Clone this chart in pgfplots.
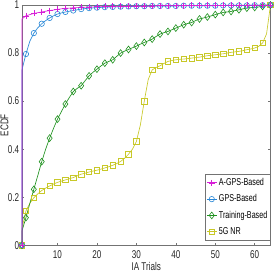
\documentclass[border=0pt]{standalone}
\usepackage{fontspec}
\setmainfont[FakeStretch=0.72]{Liberation Sans}
\usepackage{pgfplots}
\pgfplotsset{compat=1.18}
\definecolor{cMag}{RGB}{215,30,215}
\definecolor{cBlue}{RGB}{40,135,215}
\definecolor{cGreen}{RGB}{30,145,30}
\definecolor{cYel}{RGB}{200,200,40}
\begin{document}
\begin{tikzpicture}
\begin{axis}[
  scale only axis, width=248.5bp, height=240.3bp,
  xmin=1, xmax=64, ymin=0, ymax=1,
  xtick={10,20,30,40,50,60},
  ytick={0,0.2,0.4,0.6,0.8,1},
  yticklabels={0,0.2,0.4,0.6,0.8,1},
  /pgf/number format/assume math mode=true,
  tick align=inside, major tick length=2.5bp,
  axis line style={black!55, line width=0.5bp},
  every tick/.style={black!55, line width=0.5bp},
  font=\fontsize{11.3}{12}\selectfont,
  ticklabel style={text=black!85},
  xticklabel style={inner sep=0pt, yshift=-5.6bp, anchor=north},
  yticklabel style={inner sep=0pt, xshift=-2.6bp, anchor=east},
  xlabel={IA Trials}, ylabel={ECDF},
  xlabel style={at={(axis description cs:0.5,-0.088)}, anchor=center, text=black!85},
  ylabel style={at={(axis description cs:-0.07,0.5)}, anchor=center, text=black!85},
  clip=false,
  every axis plot/.append style={line width=0.65bp, mark size=2.7bp, mark options={solid, line width=0.6bp, fill=none}, mark repeat=2, mark phase=1},
  reverse legend,
  legend style={at={(1,0.022)}, anchor=south east, draw=black!55, line width=0.4bp,
    font=\fontsize{10}{10}\selectfont, inner xsep=1pt, inner ysep=2pt, row sep=3.6bp},
  legend cell align=left,
  legend image code/.code={\draw[#1,line width=0.7bp,mark repeat=2,mark phase=2] plot coordinates {(0cm,0cm) (0.17cm,0cm) (0.34cm,0cm)};},
]
% 5G NR
\addplot[color=cYel, mark=square] coordinates {
(1,0)(1,0.07)(2,0.143)(3,0.175)(4,0.198)(5,0.214)(6,0.228)(7,0.238)(8,0.247)(9,0.255)(10,0.262)
(11,0.267)(12,0.272)(13,0.277)(14,0.282)(15,0.289)(16,0.296)(17,0.300)(18,0.305)(19,0.309)(20,0.3125)
(21,0.317)(22,0.322)(23,0.327)(24,0.333)(25,0.340)(26,0.349)(27,0.362)(28,0.379)(29,0.400)(30,0.432)
(31,0.500)(32,0.600)(33,0.690)(34,0.730)(35,0.740)(36,0.747)(37,0.757)(38,0.765)(39,0.769)(40,0.772)
(41,0.774)(42,0.775)(43,0.777)(44,0.779)(45,0.781)(46,0.783)(47,0.786)(48,0.789)(49,0.791)(50,0.793)
(51,0.795)(52,0.797)(53,0.800)(54,0.803)(55,0.805)(56,0.807)(57,0.810)(58,0.814)(59,0.817)(60,0.821)
(61,0.828)(62,0.842)(63,0.880)(64,1.000)};
% Training-Based
\addplot[color=cGreen, mark=diamond, mark size=3.4bp] coordinates {
(1,0)(1,0.06)(2,0.115)(3,0.175)(4,0.233)(5,0.290)(6,0.348)(7,0.400)(8,0.446)(9,0.487)(10,0.525)
(11,0.557)(12,0.588)(13,0.615)(14,0.640)(15,0.653)(16,0.664)(17,0.685)(18,0.705)(19,0.720)(20,0.733)
(21,0.746)(22,0.758)(23,0.765)(24,0.772)(25,0.786)(26,0.800)(27,0.808)(28,0.815)(29,0.822)(30,0.829)
(31,0.837)(32,0.844)(33,0.851)(34,0.858)(35,0.869)(36,0.879)(37,0.885)(38,0.890)(39,0.897)(40,0.904)
(41,0.911)(42,0.918)(43,0.923)(44,0.927)(45,0.935)(46,0.942)(47,0.946)(48,0.950)(49,0.955)(50,0.960)
(51,0.965)(52,0.969)(53,0.971)(54,0.973)(55,0.977)(56,0.980)(57,0.984)(58,0.987)(59,0.989)(60,0.990)
(61,0.992)(62,0.994)(63,0.997)(64,1.000)};
% GPS-Based
\addplot[color=cBlue, mark=o] coordinates {
(1,0)(1,0.73)(2,0.796)(3,0.850)(4,0.883)(5,0.905)(6,0.922)(7,0.935)(8,0.946)(9,0.955)(10,0.9625)
(11,0.967)(12,0.971)(13,0.974)(14,0.977)(15,0.980)(16,0.983)(17,0.985)(18,0.987)(19,0.988)(20,0.989)
(21,0.990)(22,0.991)(23,0.991)(24,0.992)(25,0.992)(26,0.993)(27,0.993)(28,0.994)(29,0.994)(30,0.995)
(31,0.995)(32,0.995)(33,0.995)(34,0.996)(35,0.996)(36,0.996)(37,0.996)(38,0.996)(39,0.996)(40,0.996)
(41,0.997)(42,0.997)(43,0.997)(44,0.997)(45,0.997)(46,0.997)(47,0.997)(48,0.997)(49,0.997)(50,0.997)
(51,0.998)(52,0.998)(53,0.998)(54,0.998)(55,0.998)(56,0.998)(57,0.998)(58,0.998)(59,0.999)(60,0.999)
(61,0.999)(62,0.999)(63,0.999)(64,1.000)};
% A-GPS-Based
\addplot[color=cMag, mark=+, mark size=3bp] coordinates {
(1,0)(1,0.942)(2,0.955)(3,0.960)(4,0.965)(5,0.968)(6,0.971)(7,0.974)(8,0.977)(9,0.979)(10,0.982)
(11,0.984)(12,0.986)(13,0.987)(14,0.988)(15,0.989)(16,0.990)(17,0.991)(18,0.992)(19,0.992)(20,0.993)
(21,0.993)(22,0.994)(23,0.994)(24,0.994)(25,0.995)(26,0.995)(27,0.995)(28,0.995)(29,0.996)(30,0.996)
(31,0.996)(32,0.996)(33,0.996)(34,0.996)(35,0.997)(36,0.997)(37,0.997)(38,0.997)(39,0.997)(40,0.997)
(41,0.997)(42,0.997)(43,0.998)(44,0.998)(45,0.998)(46,0.998)(47,0.998)(48,0.998)(49,0.998)(50,0.998)
(51,0.998)(52,0.998)(53,0.999)(54,0.999)(55,0.999)(56,0.999)(57,0.999)(58,0.999)(59,0.999)(60,0.999)
(61,0.999)(62,0.999)(63,1.000)(64,1.000)};
\legend{5G NR, Training-Based, GPS-Based, A-GPS-Based}
\end{axis}
\pgfresetboundingbox
\useasboundingbox (-22bp,-27.7bp) rectangle (252bp,245.3bp);
\end{tikzpicture}
\end{document}
